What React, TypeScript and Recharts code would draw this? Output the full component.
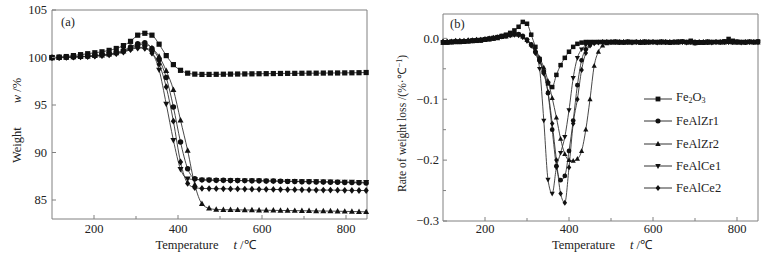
import { LineChart, Line, XAxis, YAxis, ReferenceArea } from 'recharts'

const FONT = "'Liberation Serif', 'Times New Roman', Times, serif"
const INK = '#111'
const FRAME = '#808080'

// (a) TG curves, weight %
const TEMP_A = [100, 117, 134, 151, 168, 185, 202, 219, 236, 253, 270, 287, 304, 321, 338, 355, 372, 389, 406, 423, 440, 457, 474, 491, 508, 525, 542, 559, 576, 593, 610, 627, 644, 661, 678, 695, 712, 729, 746, 763, 780, 797, 814, 831, 848]
const W_FE2O3 = [100.0, 100.05, 100.1, 100.2, 100.3, 100.4, 100.5, 100.6, 100.75, 100.95, 101.25, 101.7, 102.35, 102.55, 102.35, 101.4, 100.2, 99.25, 98.65, 98.35, 98.25, 98.22, 98.22, 98.23, 98.24, 98.25, 98.26, 98.27, 98.28, 98.29, 98.3, 98.31, 98.32, 98.33, 98.33, 98.34, 98.35, 98.35, 98.36, 98.37, 98.37, 98.38, 98.39, 98.4, 98.42]
const W_ZR1 = [100.0, 100.0, 100.03, 100.06, 100.1, 100.14, 100.2, 100.28, 100.38, 100.52, 100.75, 101.1, 101.45, 101.55, 100.95, 99.8, 97.9, 94.8, 91.1, 88.3, 87.25, 87.12, 87.1, 87.08, 87.07, 87.06, 87.05, 87.04, 87.03, 87.02, 87.0, 86.99, 86.98, 86.96, 86.95, 86.93, 86.92, 86.9, 86.89, 86.87, 86.86, 86.84, 86.83, 86.81, 86.8]
const W_ZR2 = [99.95, 99.97, 100.0, 100.04, 100.08, 100.12, 100.17, 100.24, 100.33, 100.46, 100.66, 100.98, 101.3, 101.4, 101.0, 100.1, 98.6, 96.6, 93.4, 90.2, 86.6, 84.6, 84.12, 84.0, 83.98, 83.97, 83.96, 83.95, 83.94, 83.93, 83.92, 83.91, 83.9, 83.89, 83.88, 83.87, 83.86, 83.85, 83.84, 83.83, 83.82, 83.8, 83.79, 83.77, 83.75]
const W_CE1 = [100.0, 100.0, 100.02, 100.05, 100.08, 100.12, 100.16, 100.22, 100.31, 100.43, 100.6, 100.88, 101.08, 101.05, 100.5, 98.7, 95.1, 91.3, 88.25, 87.25, 87.15, 87.12, 87.1, 87.08, 87.07, 87.06, 87.05, 87.04, 87.03, 87.02, 87.01, 87.0, 86.99, 86.98, 86.97, 86.96, 86.95, 86.94, 86.93, 86.92, 86.91, 86.9, 86.89, 86.87, 86.86]
const W_CE2 = [99.98, 99.99, 100.01, 100.04, 100.07, 100.1, 100.14, 100.2, 100.28, 100.4, 100.56, 100.82, 101.0, 100.95, 100.45, 99.3, 96.9, 93.3, 89.0, 86.75, 86.3, 86.22, 86.2, 86.19, 86.18, 86.17, 86.16, 86.15, 86.14, 86.13, 86.12, 86.11, 86.1, 86.09, 86.08, 86.07, 86.06, 86.05, 86.04, 86.04, 86.03, 86.02, 86.01, 86.0, 86.0]

// (b) DTG curves, %/°C
const TEMP_B = [100, 110, 120, 130, 140, 150, 160, 170, 180, 190, 200, 210, 220, 230, 240, 250, 260, 270, 280, 290, 300, 310, 320, 330, 340, 350, 360, 370, 380, 390, 400, 410, 420, 430, 440, 450, 460, 470, 480, 490, 500, 510, 520, 530, 540, 550, 560, 570, 580, 590, 600, 610, 620, 630, 640, 650, 660, 670, 680, 690, 700, 710, 720, 730, 740, 750, 760, 770, 780, 790, 800, 810, 820, 830, 840, 850]
const R_FE2O3 = [
  -0.007, -0.007, -0.006, -0.006, -0.006, -0.005, -0.005, -0.004, -0.004, -0.003, -0.002, -0.001, 0.0, 0.002, 0.004,
  0.006, 0.009, 0.013, 0.019, 0.027, 0.024,
  0.006, -0.014, -0.034, -0.055, -0.074, -0.08, -0.06, -0.044, -0.032, -0.022,
  -0.014, -0.009, -0.007, -0.006, -0.006, -0.006, -0.006, -0.006, -0.006, -0.006,
  -0.006, -0.006, -0.007, -0.006, -0.006, -0.006, -0.007, -0.006, -0.006, -0.006,
  -0.006, -0.006, -0.006, -0.007, -0.006, -0.006, -0.005, -0.006, -0.004, -0.007,
  -0.007, -0.007, -0.006, -0.006, -0.006, -0.006, -0.005, -0.001, -0.004, -0.006,
  -0.006, -0.006, -0.006, -0.006, -0.005,
]
const R_ZR1 = [
  -0.006, -0.006, -0.006, -0.005, -0.005, -0.005, -0.004, -0.004, -0.003, -0.003, -0.002, -0.001, 0.0, 0.001, 0.003,
  0.004, 0.006, 0.007, 0.007, 0.004, -0.002,
  -0.01, -0.022, -0.036, -0.055, -0.09, -0.15, -0.21, -0.233, -0.226, -0.185,
  -0.135, -0.077, -0.036, -0.018, -0.01, -0.007, -0.006, -0.006, -0.006, -0.006,
  -0.006, -0.007, -0.006, -0.006, -0.006, -0.006, -0.006, -0.007, -0.006, -0.006,
  -0.006, -0.006, -0.007, -0.006, -0.006, -0.006, -0.006, -0.006, -0.006, -0.008,
  -0.007, -0.007, -0.007, -0.006, -0.006, -0.006, -0.006, -0.006, -0.006, -0.006,
  -0.006, -0.007, -0.006, -0.006, -0.006,
]
const R_ZR2 = [
  -0.007, -0.007, -0.007, -0.006, -0.006, -0.006, -0.005, -0.005, -0.004, -0.004, -0.003, -0.002, -0.001, 0.0, 0.002,
  0.003, 0.005, 0.006, 0.006, 0.003, -0.003,
  -0.01, -0.02, -0.032, -0.048, -0.07, -0.098, -0.13, -0.165, -0.19, -0.2,
  -0.201, -0.198, -0.185, -0.15, -0.1, -0.045, -0.022, -0.012, -0.008, -0.007,
  -0.007, -0.007, -0.006, -0.007, -0.007, -0.006, -0.007, -0.007, -0.007, -0.006,
  -0.007, -0.007, -0.006, -0.007, -0.007, -0.007, -0.006, -0.007, -0.007, -0.008,
  -0.007, -0.007, -0.007, -0.007, -0.006, -0.007, -0.007, -0.006, -0.007, -0.007,
  -0.007, -0.007, -0.006, -0.007, -0.007,
]
const R_CE1 = [
  -0.006, -0.006, -0.005, -0.005, -0.005, -0.004, -0.004, -0.003, -0.003, -0.002, -0.001, 0.0, 0.001, 0.002, 0.004,
  0.005, 0.006, 0.007, 0.006, 0.002, -0.004,
  -0.012, -0.024, -0.05, -0.135, -0.232, -0.255, -0.212, -0.188, -0.162, -0.118,
  -0.065, -0.032, -0.018, -0.011, -0.008, -0.007, -0.006, -0.006, -0.006, -0.006,
  -0.005, -0.006, -0.006, -0.005, -0.006, -0.006, -0.006, -0.005, -0.006, -0.006,
  -0.006, -0.005, -0.006, -0.006, -0.006, -0.005, -0.006, -0.006, -0.005, -0.006,
  -0.006, -0.006, -0.005, -0.006, -0.006, -0.006, -0.005, -0.006, -0.006, -0.005,
  -0.006, -0.006, -0.005, -0.006, -0.006,
]
const R_CE2 = [
  -0.005, -0.005, -0.005, -0.004, -0.004, -0.004, -0.003, -0.003, -0.002, -0.002, -0.001, 0.0, 0.001, 0.002, 0.003,
  0.004, 0.005, 0.006, 0.005, 0.002, -0.004,
  -0.012, -0.024, -0.038, -0.058, -0.088, -0.14, -0.2, -0.255, -0.27, -0.212,
  -0.14, -0.1, -0.052, -0.024, -0.012, -0.008, -0.007, -0.006, -0.006, -0.006,
  -0.006, -0.006, -0.006, -0.006, -0.007, -0.006, -0.006, -0.006, -0.006, -0.006,
  -0.007, -0.006, -0.006, -0.006, -0.006, -0.006, -0.006, -0.007, -0.006, -0.006,
  -0.006, -0.006, -0.006, -0.007, -0.006, -0.006, -0.006, -0.006, -0.006, -0.006,
  -0.007, -0.006, -0.006, -0.006, -0.006,
]

const X_TICKS = [200, 300, 400, 500, 600, 700, 800]
const W_TICKS = [85, 90, 95, 100, 105]
const R_TICKS = [-0.3, -0.25, -0.2, -0.15, -0.1, -0.05, 0]

type Shape = 'square' | 'circle' | 'up' | 'down' | 'diamond'

const SERIES: { key: string; name: string; shape: Shape }[] = [
  { key: 'fe', name: 'Fe2O3', shape: 'square' },
  { key: 'zr1', name: 'FeAlZr1', shape: 'circle' },
  { key: 'zr2', name: 'FeAlZr2', shape: 'up' },
  { key: 'ce1', name: 'FeAlCe1', shape: 'down' },
  { key: 'ce2', name: 'FeAlCe2', shape: 'diamond' },
]

const rowsA = TEMP_A.map((t, i) => ({ t, fe: W_FE2O3[i], zr1: W_ZR1[i], zr2: W_ZR2[i], ce1: W_CE1[i], ce2: W_CE2[i] }))
const rowsB = TEMP_B.map((t, i) => ({ t, fe: R_FE2O3[i], zr1: R_ZR1[i], zr2: R_ZR2[i], ce1: R_CE1[i], ce2: R_CE2[i] }))

function Marker({ cx, cy, shape, s }: { cx?: number; cy?: number; shape: Shape; s: number }) {
  if (cx == null || cy == null || isNaN(cx) || isNaN(cy)) return <g />
  const h = s / 2
  switch (shape) {
    case 'square':
      return <rect x={cx - h} y={cy - h} width={s} height={s} fill={INK} />
    case 'circle':
      return <circle cx={cx} cy={cy} r={h * 1.05} fill={INK} />
    case 'up':
      return <polygon points={`${cx},${cy - h * 1.25} ${cx - h * 1.15},${cy + h * 0.85} ${cx + h * 1.15},${cy + h * 0.85}`} fill={INK} />
    case 'down':
      return <polygon points={`${cx},${cy + h * 1.25} ${cx - h * 1.15},${cy - h * 0.85} ${cx + h * 1.15},${cy - h * 0.85}`} fill={INK} />
    default:
      return <polygon points={`${cx},${cy - h * 1.3} ${cx + h},${cy} ${cx},${cy + h * 1.3} ${cx - h},${cy}`} fill={INK} />
  }
}

const dotOf = (shape: Shape, s: number) => (p: any) => (
  <Marker key={`${shape}-${p.index}`} cx={p.cx} cy={p.cy} shape={shape} s={s} />
)

function XTick(props: any) {
  const { x, y, payload, labelDy } = props
  const v = payload.value as number
  const major = v % 200 === 0
  return (
    <g>
      <line x1={x} x2={x} y1={y} y2={y - (major ? 4 : 3)} stroke={FRAME} />
      {major && (
        <text x={x} y={y + labelDy} textAnchor="middle" fontFamily={FONT} fontSize={12.5} fill="#222">{v}</text>
      )}
    </g>
  )
}

function YTick(props: any) {
  const { x, y, payload, dtg } = props
  const v = payload.value as number
  const major = dtg ? Math.abs(v * 10 - Math.round(v * 10)) < 1e-6 : true
  const text = dtg ? (v === 0 ? '0.0' : '\u2212' + Math.abs(v).toFixed(1)) : String(v)
  return (
    <g>
      <line x1={x} x2={x + (major ? 4 : 3)} y1={y} y2={y} stroke={FRAME} />
      {major && (
        <text x={x - (dtg ? 4 : 5)} y={y + 4.3} textAnchor="end" fontFamily={FONT} fontSize={12.5} fill="#222">{text}</text>
      )}
    </g>
  )
}

function XTitle({ viewBox, dy, shift }: any) {
  const vb = viewBox || { x: 0, y: 0, width: 0 }
  return (
    <text x={vb.x + vb.width / 2 + shift} y={vb.y + dy} textAnchor="middle" fontFamily={FONT} fontSize={12.5} fill="#222">
      Temperature
      <tspan dx={15} fontStyle="italic">t</tspan>
      <tspan> /℃</tspan>
    </text>
  )
}

function WeightTitle({ viewBox }: any) {
  const vb = viewBox || { y: 0, height: 0 }
  const cx = 21
  const cy = vb.y + vb.height / 2 + 6
  return (
    <text x={cx} y={cy} transform={`rotate(-90, ${cx}, ${cy})`} textAnchor="middle" fontFamily={FONT} fontSize={12.5} fill="#222">
      Weight
      <tspan dx={24} fontStyle="italic">w</tspan>
      <tspan> /%</tspan>
    </text>
  )
}

function RateTitle({ viewBox }: any) {
  const vb = viewBox || { y: 0, height: 0 }
  const cx = 21
  const cy = vb.y + vb.height / 2 + 6
  return (
    <text x={cx} y={cy} transform={`rotate(-90, ${cx}, ${cy})`} textAnchor="middle" fontFamily={FONT} fontSize={11.6} fill="#222">
      Rate of weight loss /(%·℃
      <tspan dy={-4.5} fontSize={8}>−1</tspan>
      <tspan dy={4.5}>)</tspan>
    </text>
  )
}

function Corner({ viewBox, text, dx, dy }: any) {
  const vb = viewBox || { x: 0, y: 0 }
  return (
    <text x={vb.x + dx} y={vb.y + dy} fontFamily={FONT} fontSize={12.5} fill="#222">{text}</text>
  )
}

function SeriesName({ name }: { name: string }) {
  if (name !== 'Fe2O3') return <>{name}</>
  return (
    <>
      Fe<sub style={{ fontSize: 8, verticalAlign: -2 }}>2</sub>O<sub style={{ fontSize: 8, verticalAlign: -2 }}>3</sub>
    </>
  )
}

function ChartLegend() {
  return (
    <div style={{ position: 'absolute', left: 259, top: 88, fontFamily: FONT, fontSize: 12.5, color: '#222' }}>
      {SERIES.map(s => (
        <div key={s.key} style={{ display: 'flex', alignItems: 'center', height: 22.3, lineHeight: '14px' }}>
          <svg width={30} height={10} style={{ display: 'block' }}>
            <line x1={0} x2={28} y1={5} y2={5} stroke="#333" strokeWidth={1} />
            <Marker cx={14} cy={5} shape={s.shape} s={4.8} />
          </svg>
          <span style={{ marginLeft: 2 }}><SeriesName name={s.name} /></span>
        </div>
      ))}
    </div>
  )
}

export default function App() {
  return (
    <div style={{ position: 'absolute', left: 0, top: 0, width: 775, height: 258, background: '#fff' }}>
      <div style={{ position: 'absolute', left: 0, top: 0 }}>
        <LineChart width={385} height={258} data={rowsA} margin={{ top: 10, right: 18, bottom: 0, left: 0 }}>
          <XAxis
            dataKey="t" type="number" domain={[100, 850]} ticks={X_TICKS} interval={0} height={39}
            axisLine={false} tickLine={false} tickSize={0} tickMargin={0}
            tick={<XTick labelDy={14} />}
            label={(p: any) => <XTitle {...p} dy={30} shift={-4} />}
          />
          <YAxis
            type="number" domain={[83, 105]} ticks={W_TICKS} interval={0} width={52}
            axisLine={false} tickLine={false} tickSize={0} tickMargin={0}
            tick={<YTick dtg={false} />}
            label={(p: any) => <WeightTitle {...p} />}
          />
          <ReferenceArea
            x1={100} x2={850} y1={83} y2={105} fill="none" fillOpacity={0} stroke={FRAME} strokeWidth={1}
            label={(p: any) => <Corner {...p} text="(a)" dx={9} dy={16} />}
          />
          {SERIES.map(s => (
            <Line
              key={s.key} dataKey={s.key} type="monotone" stroke="#333" strokeWidth={0.9}
              dot={dotOf(s.shape, 5.2)} activeDot={false} isAnimationActive={false}
            />
          ))}
        </LineChart>
      </div>
      <div style={{ position: 'absolute', left: 385, top: 0, width: 390, height: 258 }}>
        <LineChart width={390} height={258} data={rowsB} margin={{ top: 14, right: 17, bottom: 0, left: 0 }}>
          <XAxis
            dataKey="t" type="number" domain={[100, 850]} ticks={X_TICKS} interval={0} height={37}
            axisLine={false} tickLine={false} tickSize={0} tickMargin={0}
            tick={<XTick labelDy={12} />}
            label={(p: any) => <XTitle {...p} dy={28} shift={1.5} />}
          />
          <YAxis
            type="number" domain={[-0.3, 0.04]} ticks={R_TICKS} interval={0} width={58}
            axisLine={false} tickLine={false} tickSize={0} tickMargin={0}
            tick={<YTick dtg />}
            label={(p: any) => <RateTitle {...p} />}
          />
          <ReferenceArea
            x1={100} x2={850} y1={-0.3} y2={0.04} fill="none" fillOpacity={0} stroke={FRAME} strokeWidth={1}
            label={(p: any) => <Corner {...p} text="(b)" dx={7} dy={14} />}
          />
          {SERIES.map(s => (
            <Line
              key={s.key} dataKey={s.key} type="monotone" stroke="#333" strokeWidth={0.9}
              dot={dotOf(s.shape, 4.5)} activeDot={false} isAnimationActive={false}
            />
          ))}
        </LineChart>
        <ChartLegend />
      </div>
    </div>
  )
}
